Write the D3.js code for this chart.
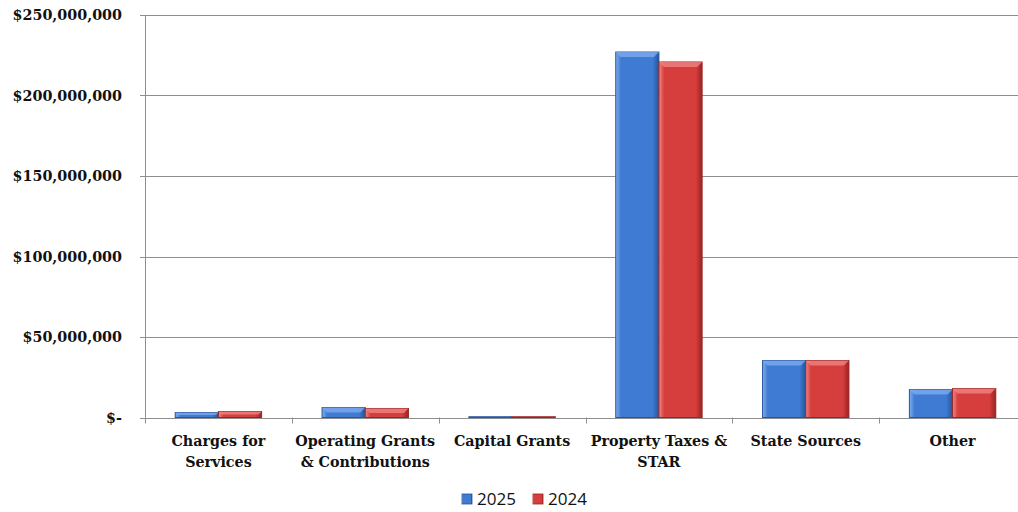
<!DOCTYPE html>
<html>
<head>
<meta charset="utf-8">
<script src="https://cdn.jsdelivr.net/npm/d3@7"></script>
<style>
  body { margin: 0; background: #ffffff; }
  svg { display: block; }
</style>
</head>
<body>
<svg width="1018" height="512"></svg>
<script>
// chart data
var categories = [
  ["Charges for", "Services"],
  ["Operating Grants", "& Contributions"],
  ["Capital Grants"],
  ["Property Taxes &", "STAR"],
  ["State Sources"],
  ["Other"]
];
var years = ["2025", "2024"];
var values2025 = [3100000, 6200000, 500000, 227000000, 35400000, 17400000];
var values2024 = [3700000, 5600000, 500000, 220800000, 35400000, 18000000];
var yTicks = [0, 50000000, 100000000, 150000000, 200000000, 250000000];

var baseColors = { "2025": "#3f7bd3", "2024": "#d63e3d" };
var lightColors = { "2025": "#82aef0", "2024": "#f08a86" };
var darkColors = { "2025": "#25559c", "2024": "#9a2423" };

var svg = d3.select("svg"),
    width = +svg.attr("width"),
    height = +svg.attr("height");

// plot runs a little past the right edge, like the original
var plotLeft = 145, plotRight = 1026, plotTop = 15, plotBottom = 417.5;

var x = d3.scaleBand()
    .domain(d3.range(categories.length))
    .range([plotLeft, plotRight]);

var x1 = d3.scaleBand()
    .domain(years)
    .range([0, x.bandwidth()])
    .paddingInner(0)
    .paddingOuter(0.7);

var y = d3.scaleLinear()
    .domain([0, 250000000])
    .range([plotBottom, plotTop]);

// gradients for the bevelled bars
var defs = svg.append("defs");
years.forEach(function(yr) {
  var g = defs.append("linearGradient")
      .attr("id", "grad" + yr)
      .attr("x1", "0").attr("x2", "1").attr("y1", "0").attr("y2", "0");
  g.append("stop").attr("offset", "0").attr("stop-color", lightColors[yr]);
  g.append("stop").attr("offset", "0.12").attr("stop-color", baseColors[yr]);
  g.append("stop").attr("offset", "0.85").attr("stop-color", baseColors[yr]);
  g.append("stop").attr("offset", "1").attr("stop-color", darkColors[yr]);
});

// gridlines
svg.append("g")
  .selectAll("line")
  .data(yTicks)
  .enter().append("line")
    .attr("x1", plotLeft - 5)
    .attr("x2", width)
    .attr("y1", function(d) { return Math.round(y(d)) + 0.5; })
    .attr("y2", function(d) { return Math.round(y(d)) + 0.5; })
    .attr("stroke", "#8e8e8e")
    .attr("stroke-width", 1);

// y axis line
svg.append("line")
  .attr("x1", plotLeft + 0.5).attr("x2", plotLeft + 0.5)
  .attr("y1", plotTop).attr("y2", y(0))
  .attr("stroke", "#8e8e8e");

// x axis tick marks between categories
svg.append("g")
  .selectAll("line")
  .data(d3.range(categories.length + 1))
  .enter().append("line")
    .attr("x1", function(i) { return Math.round(plotLeft + i * x.step()) + 0.5; })
    .attr("x2", function(i) { return Math.round(plotLeft + i * x.step()) + 0.5; })
    .attr("y1", y(0))
    .attr("y2", y(0) + 6)
    .attr("stroke", "#8e8e8e");

// y labels
var fmt = d3.format(",");
svg.append("g")
  .selectAll("text")
  .data(yTicks)
  .enter().append("text")
    .attr("x", 122)
    .attr("y", function(d) { return y(d); })
    .attr("dy", "0.35em")
    .attr("text-anchor", "end")
    .style("font-family", "'DejaVu Serif', serif")
    .style("font-weight", "bold")
    .style("font-size", "14.3px")
    .attr("fill", "#111")
    .text(function(d) { return d === 0 ? "$-" : "$" + fmt(d); });

// bars
var rows = categories.map(function(c, i) {
  return [{ year: "2025", v: values2025[i], i: i }, { year: "2024", v: values2024[i], i: i }];
});

var group = svg.append("g")
  .selectAll("g")
  .data(rows)
  .enter().append("g")
    .attr("transform", function(d, i) { return "translate(" + x(i) + ",0)"; });

var bar = group.selectAll("g")
  .data(function(d) { return d; })
  .enter().append("g");

bar.append("rect")
    .attr("x", function(d) { return x1(d.year); })
    .attr("y", function(d) { return y(d.v); })
    .attr("width", x1.bandwidth())
    .attr("height", function(d) { return y(0) - y(d.v); })
    .attr("fill", function(d) { return "url(#grad" + d.year + ")"; })
    .attr("stroke", function(d) { return darkColors[d.year]; })
    .attr("stroke-width", 1);

// top bevel
bar.append("path")
    .attr("d", function(d) {
      var x0 = x1(d.year), w = x1.bandwidth(), t = y(d.v), h = y(0) - t;
      var b = Math.min(5, h / 2);
      return "M" + x0 + "," + t + "L" + (x0 + w) + "," + t +
        "L" + (x0 + w - b) + "," + (t + b) + "L" + (x0 + b) + "," + (t + b) + "Z";
    })
    .attr("fill", function(d) { return lightColors[d.year]; })
    .attr("opacity", 0.75);

// category labels
var labels = svg.append("g")
  .selectAll("text")
  .data(categories)
  .enter().append("text")
    .attr("x", function(d, i) { return x(i) + x.bandwidth() / 2; })
    .attr("y", y(0) + 28)
    .attr("text-anchor", "middle")
    .style("font-family", "'DejaVu Serif', serif")
    .style("font-weight", "bold")
    .style("font-size", "14.3px")
    .attr("fill", "#111");

labels.selectAll("tspan")
  .data(function(d) { return d; })
  .enter().append("tspan")
    .attr("x", function() { return d3.select(this.parentNode).attr("x"); })
    .attr("dy", function(d, i) { return i === 0 ? 0 : 21; })
    .text(function(d) { return d; });

// legend
var legend = svg.append("g")
  .selectAll("g")
  .data(years)
  .enter().append("g")
    .attr("transform", function(d, i) { return "translate(" + (462 + i * 71) + ",494)"; });

legend.append("rect")
    .attr("width", 10).attr("height", 10)
    .attr("fill", function(d) { return "url(#grad" + d + ")"; })
    .attr("stroke", function(d) { return darkColors[d]; })
    .attr("stroke-width", 0.8);

legend.append("text")
    .attr("x", 15)
    .attr("y", 5)
    .attr("dy", "0.35em")
    .style("font-family", "'Open Sans', sans-serif")
    .style("font-size", "17px")
    .attr("fill", "#111")
    .text(function(d) { return d; });
</script>
</body>
</html>
